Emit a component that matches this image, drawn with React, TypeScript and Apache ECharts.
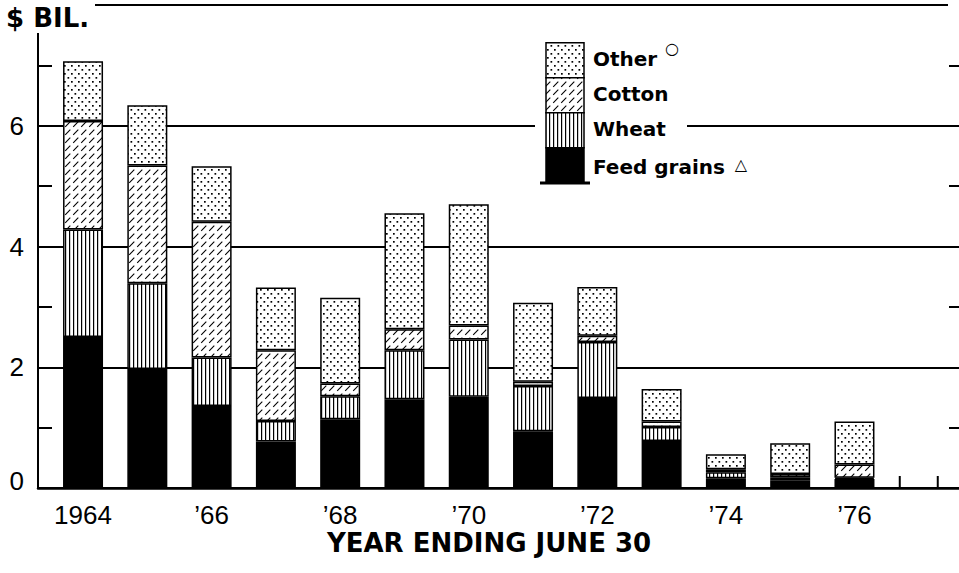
import React, { useEffect, useRef } from 'react';
import * as echarts from 'echarts';

// ---- data (values in $ billion, year ending June 30) ----
const years = ['1964', '1965', '1966', '1967', '1968', '1969', '1970', '1971', '1972', '1973', '1974', '1975', '1976', '1977'];
const xTickLabels = ['1964', '’66', '’68', '’70', '’72', '’74', '’76'];
const yTickLabels = [0, 2, 4, 6];
const seriesNames = ['Feed grains', 'Wheat', 'Cotton', 'Other'];
const feedGrains = [2.50, 1.97, 1.36, 0.77, 1.14, 1.47, 1.51, 0.94, 1.49, 0.78, 0.16, 0.13, 0.15, null];
const wheat = [1.78, 1.42, 0.80, 0.34, 0.38, 0.81, 0.95, 0.75, 0.93, 0.23, 0.10, 0.05, 0.02, null];
const cotton = [1.80, 1.95, 2.25, 1.17, 0.21, 0.35, 0.23, 0.07, 0.10, 0.09, 0.05, 0.05, 0.22, null];
const other = [0.99, 1.00, 0.92, 1.04, 1.42, 1.92, 2.01, 1.31, 0.81, 0.54, 0.25, 0.51, 0.71, null];
const tickOnlyYears = ['1977'];

const NUM_FONT = '"Liberation Sans", Arial, Helvetica, sans-serif';
const BOLD_FONT = '"DejaVu Sans", "Liberation Sans", sans-serif';

function tile(w: number, h: number, draw: (ctx: CanvasRenderingContext2D) => void) {
  const c = document.createElement('canvas');
  c.width = w;
  c.height = h;
  const ctx = c.getContext('2d') as CanvasRenderingContext2D;
  ctx.fillStyle = '#fff';
  ctx.fillRect(0, 0, w, h);
  ctx.fillStyle = '#000';
  ctx.strokeStyle = '#000';
  draw(ctx);
  return { image: c, repeat: 'repeat', imageWidth: w, imageHeight: h } as any;
}

export default function App() {
  const ref = useRef<HTMLDivElement>(null);
  useEffect(() => {
    if (!ref.current) return;
    const chart = echarts.init(ref.current, null, { renderer: 'svg' });

    const dots = tile(7, 8, (ctx) => {
      ctx.fillRect(1, 1, 1.7, 1.7);
      ctx.fillRect(4.5, 5, 1.7, 1.7);
    });
    const hatch = tile(8, 8, (ctx) => {
      ctx.lineWidth = 1.1;
      ctx.beginPath();
      ctx.moveTo(1.2, 6.8);
      ctx.lineTo(6.3, 1.7);
      ctx.stroke();
    });
    const vlines = tile(4, 4, (ctx) => {
      ctx.fillRect(1, 0, 1.2, 4);
    });
    const fills: Record<string, any> = {
      'Feed grains': '#000',
      Wheat: vlines,
      Cotton: hatch,
      Other: dots,
    };
    const dataBy: Record<string, (number | null)[]> = {
      'Feed grains': feedGrains,
      Wheat: wheat,
      Cotton: cotton,
      Other: other,
    };

    const barSeries = seriesNames.map((name) => ({
      name,
      type: 'bar',
      stack: 'total',
      xAxisIndex: 1,
      yAxisIndex: 2,
      barWidth: 40,
      itemStyle: { color: fills[name], borderColor: '#000', borderWidth: 1.5 },
      data: dataBy[name],
    }));

    // legend (drawn as graphic)
    const legendOrder = ['Other', 'Cotton', 'Wheat', 'Feed grains'];
    const lgX = 546, lgY = 42.7, lgW = 38, lgH = 35;
    const legendEls: any[] = [
      { type: 'rect', z: 90, shape: { x: 535, y: 108, width: 152, height: 36 }, style: { fill: '#fff' } },
    ];
    legendOrder.forEach((name, i) => {
      legendEls.push({
        type: 'rect', z: 95,
        shape: { x: lgX, y: lgY + i * lgH, width: lgW, height: lgH },
        style: { fill: fills[name], stroke: '#000', lineWidth: 1.5 },
      });
      legendEls.push({
        type: 'text', z: 100, x: 593, y: lgY + i * lgH + lgH / 2 + (i === 3 ? 2 : -1),
        style: { text: name, fill: '#000', fontSize: 20, fontWeight: 'bold', fontFamily: BOLD_FONT, verticalAlign: 'middle' },
      });
    });
    legendEls.push({ type: 'line', z: 100, shape: { x1: 540, y1: 183, x2: 590, y2: 183 }, style: { stroke: '#000', lineWidth: 3 } });
    legendEls.push({ type: 'text', z: 100, x: 672, y: 48, style: { text: '○', fill: '#000', fontSize: 16, fontFamily: BOLD_FONT, align: 'center', verticalAlign: 'middle' } });
    legendEls.push({ type: 'text', z: 100, x: 741, y: 164, style: { text: '△', fill: '#000', fontSize: 16, fontFamily: BOLD_FONT, align: 'center', verticalAlign: 'middle' } });

    const option: any = {
      animation: false,
      textStyle: { fontFamily: NUM_FONT },
      grid: [
        { left: 38, right: 0, top: 5, bottom: 85 },
        { left: 50.9, right: 8.1, top: 5, bottom: 85 },
      ],
      xAxis: [
        {
          type: 'value', gridIndex: 0, min: 0, max: 1,
          axisLine: { show: true, onZero: false, lineStyle: { color: '#000', width: 2.5 } },
          axisTick: { show: false }, axisLabel: { show: false }, splitLine: { show: false },
        },
        {
          type: 'category', gridIndex: 1, data: years,
          axisLine: { show: false }, axisTick: { show: false }, splitLine: { show: false },
          axisLabel: {
            interval: 0, color: '#000', fontSize: 26, fontFamily: NUM_FONT, margin: 14,
            formatter: (_v: string, idx: number) => (idx % 2 === 0 && xTickLabels[idx / 2] ? xTickLabels[idx / 2] : ''),
          },
        },
      ],
      yAxis: [
        {
          type: 'value', gridIndex: 0, min: 0, max: 8, interval: 2,
          axisLine: { show: true, lineStyle: { color: '#000', width: 2 } },
          axisTick: { show: true, inside: true, length: 14, lineStyle: { color: '#000', width: 2 } },
          minorTick: { show: true, splitNumber: 2, length: 14, lineStyle: { color: '#000', width: 2 } },
          splitLine: { show: true, lineStyle: { color: '#000', width: 2 } },
          axisLabel: {
            color: '#000', fontSize: 26, fontFamily: NUM_FONT, margin: 14,
            formatter: (v: number) => (yTickLabels.indexOf(v) < 0 ? '' : v === 0 ? '{z|0}' : String(v)),
            rich: { z: { fontSize: 26, color: '#000', fontFamily: NUM_FONT, padding: [0, 0, 14, 0] } },
          },
        },
        {
          type: 'value', gridIndex: 0, position: 'right', min: 0, max: 8, interval: 2,
          axisLine: { show: false },
          axisTick: { show: true, inside: true, length: 10, lineStyle: { color: '#000', width: 2 } },
          minorTick: { show: true, splitNumber: 2, length: 10, lineStyle: { color: '#000', width: 2 } },
          splitLine: { show: false }, axisLabel: { show: false },
        },
        { type: 'value', gridIndex: 1, min: 0, max: 8, show: false, splitLine: { show: false } },
      ],
      series: [
        ...barSeries,
        {
          type: 'custom', xAxisIndex: 1, yAxisIndex: 2, z: 3,
          data: tickOnlyYears.map((y) => [years.indexOf(y), 0]),
          renderItem: (_p: any, api: any) => {
            const base = api.coord([api.value(0), 0]);
            const half = 19;
            return {
              type: 'group',
              children: [-half, half].map((dx) => ({
                type: 'line',
                shape: { x1: base[0] + dx, y1: base[1], x2: base[0] + dx, y2: base[1] - 12 },
                style: { stroke: '#000', lineWidth: 2 },
              })),
            };
          },
        },
      ],
      graphic: [
        { type: 'rect', z: 90, shape: { x: 0, y: 0, width: 95, height: 33 }, style: { fill: '#fff' } },
        { type: 'rect', z: 90, shape: { x: 948, y: 0, width: 11, height: 10 }, style: { fill: '#fff' } },
        {
          type: 'text', z: 100, x: 6, y: 18,
          style: { text: '$ BIL.', fill: '#000', fontSize: 26, fontWeight: 'bold', fontFamily: BOLD_FONT, verticalAlign: 'middle' },
        },
        {
          type: 'text', z: 100, x: 489, y: 543,
          style: { text: 'YEAR ENDING JUNE 30', fill: '#000', fontSize: 26, fontWeight: 'bold', fontFamily: BOLD_FONT, align: 'center', verticalAlign: 'middle' },
        },
        ...legendEls,
      ],
    };
    chart.setOption(option);
    return () => chart.dispose();
  }, []);
  return <div ref={ref} style={{ position: 'absolute', left: 0, top: 0, width: 959, height: 573, background: '#fff' }} />;
}
